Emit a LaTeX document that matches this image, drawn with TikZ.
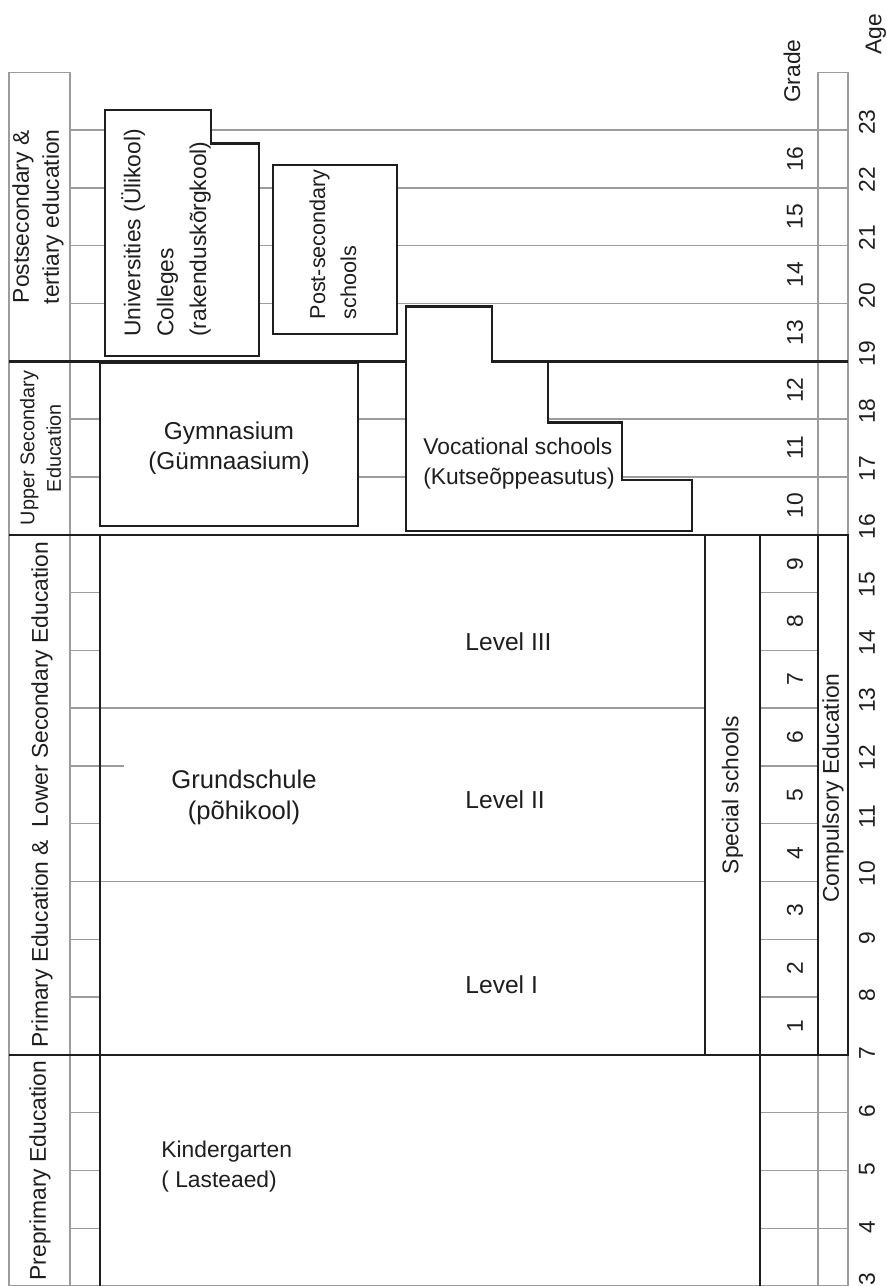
\documentclass[tikz,border=0pt]{standalone}
\usepackage{fontspec}
\setmainfont{Liberation Sans}
\definecolor{ink}{HTML}{1E1E1E}
\definecolor{gridgray}{HTML}{9C9C9C}
\newcommand\mainsize{\fontsize{11.4}{15}\selectfont}
\newcommand\smallsize{\fontsize{9.9}{13.2}\selectfont}
\newcommand\unisize{\fontsize{11.4}{16.4}\selectfont}
\newcommand\postsize{\fontsize{10.8}{15.5}\selectfont}
\newcommand\gymsize{\fontsize{12.2}{15}\selectfont}
\newcommand\grundsize{\fontsize{12.8}{15.5}\selectfont}
\newcommand\levelsize{\fontsize{12.3}{15}\selectfont}
\begin{document}
% x in units of 0.5pt, y in years of age (one year = 28.9pt)
\begin{tikzpicture}[x=0.5pt, y=28.9pt,
  every node/.style={inner sep=0pt, text=ink, font=\mainsize},
  thin rule/.style={draw=gridgray, line width=0.7pt},
  heavy rule/.style={draw=ink, line width=1.2pt},
  schoolbox/.style={draw=ink, line width=1.2pt, fill=white, line join=miter},
  vlabel/.style={rotate=90}]

\useasboundingbox[fill=white] (0,3.0035) rectangle (887,25.2526);

% outer light columns
\draw[thin rule] (9,3) rectangle (70,24);
\draw[thin rule] (818,3) rectangle (848,24);

% age rules across the upper part
\foreach \a in {17,18,20,21,22,23}
  \draw[thin rule] (70,\a) -- (848,\a);

% short ticks in the narrow column
\foreach \a in {4,5,6,8,9,11,14,15}
  \draw[thin rule] (70,\a) -- (100,\a);
\draw[thin rule] (70,12) -- (124,12);

% level boundaries in the basic school
\foreach \a in {10,13}
  \draw[thin rule] (70,\a) -- (705,\a);

% grade column rules
\foreach \a in {8,...,15}
  \draw[thin rule] (760,\a) -- (818,\a);
\foreach \a in {4,5,6}
  \draw[thin rule] (760,\a) -- (848,\a);
\draw[thin rule] (9,3) -- (848,3);

% stage boundaries
\foreach \a in {7,16,19}
  \draw[heavy rule] (9,\a) -- (848,\a);
\draw[heavy rule] (100,3) -- (100,16);
\draw[heavy rule] (760,3) -- (760,16);
\draw[heavy rule] (705,7) rectangle (760,16);
\draw[heavy rule] (818,7) rectangle (848,16);

% school boxes
\draw[schoolbox] (105,19.09) -- (105,23.35) -- (211,23.35) -- (211,22.77)
  -- (259,22.77) -- (259,19.09) -- cycle;
\draw[schoolbox] (273,19.47) rectangle (397,22.40);
\draw[schoolbox] (100,16.15) rectangle (358,18.98);
\draw[schoolbox] (406,16.07) -- (406,19.95) -- (491.7,19.95) -- (491.7,18.995)
  -- (548,18.995) -- (548,17.94) -- (621.7,17.94) -- (621.7,16.95)
  -- (692,16.95) -- (692,16.07) -- cycle;

% stage names
\node[vlabel, align=center] (stpost) at (38,21.5) {Postsecondary \&\\tertiary education};
\node[vlabel, align=center, font=\smallsize] (stupper) at (40.5,17.5) {Upper Secondary\\Education};
\node[vlabel] (stprim) at (42,11.5) {Primary Education \& \ Lower Secondary Education};
\node[vlabel] (stpre) at (40,5) {Preprimary Education};

% school names
\node[vlabel, anchor=north west, align=left, font=\unisize] (uni) at (121,19.42)
  {Universities (Ülikool)\\Colleges\\(rakenduskõrgkool)};
\node[vlabel, anchor=north west, align=left, font=\postsize] (psec) at (309,19.72)
  {Post-secondary\\schools};
\node[align=center, font=\gymsize] (gym) at (229,17.5) {Gymnasium\\(Gümnaasium)};
\node[align=left, anchor=west] (voc) at (423,17.24) {Vocational schools\\(Kutseõppeasutus)};
\node[align=center, font=\grundsize] (grund) at (244,11.46) {Grundschule\\(põhikool)};
\node[anchor=west, font=\levelsize] (lv3) at (465,14.15) {Level III};
\node[anchor=west, font=\levelsize] (lv2) at (465,11.41) {Level II};
\node[anchor=west, font=\levelsize] (lv1) at (465,8.21) {Level I};
\node[align=left, anchor=west] (kg) at (161,5.07) {Kindergarten\\( Lasteaed)};
\node[vlabel] (spec) at (732.5,11.5) {Special schools};
\node[vlabel] (comp) at (833,11.62) {Compulsory Education};

% scales
\node[vlabel] (gradehead) at (792,24.02) {Grade};
\node[vlabel] (agehead) at (876,24.66) {Age};
\foreach \g in {1,...,16}
  \node[vlabel] (g\g) at (795,6.5+\g) {\g};
\foreach \a in {4,...,23}
  \node[vlabel, anchor=west] (a\a) at (867,\a-0.087) {\a};
\node[vlabel, anchor=west] (a3) at (867,3.012) {3};

\end{tikzpicture}
\end{document}
